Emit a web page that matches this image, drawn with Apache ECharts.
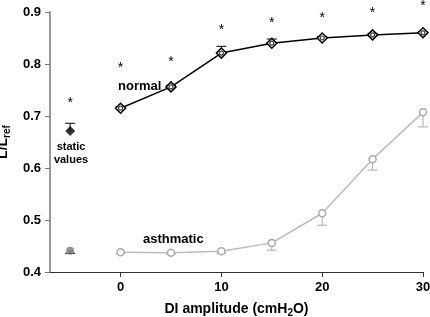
<!DOCTYPE html>
<html>
<head>
<meta charset="utf-8">
<script src="https://cdn.jsdelivr.net/npm/echarts@6/dist/echarts.min.js"></script>
<style>
  html, body { margin: 0; padding: 0; background: #fff; }
  #chart { width: 430px; height: 317px; }
</style>
</head>
<body>
<div id="chart"></div>
<script>
// DI amplitude (cmH2O)
const amplitudes = [0, 5, 10, 15, 20, 25, 30];
const normalMean = [0.715, 0.756, 0.821, 0.840, 0.850, 0.856, 0.860];
const normalErrTop = [0.718, 0.759, 0.834, 0.848, 0.853, 0.859, 0.862];
const asthmaticMean = [0.438, 0.437, 0.440, 0.456, 0.513, 0.617, 0.707];
const asthmaticErrLow = [0.435, 0.434, 0.436, 0.442, 0.490, 0.596, 0.679];
const starLevels = [0.792, 0.804, 0.865, 0.879, 0.888, 0.898, 0.911];

// static values, drawn at x = -5
const staticX = -5;
const staticNormal = 0.671;
const staticNormalErr = 0.686;
const staticAsthmatic = 0.441;
const staticAsthmaticErr = 0.436;
const staticStar = 0.725;

const xTicks = [0, 10, 20, 30];

const FONT = "Liberation Sans";

const pairs = (xs, ys) => xs.map((x, i) => [x, ys[i]]);

const errBar = (color) => (params, api) => {
  const p0 = api.coord([api.value(0), api.value(1)]);
  const p1 = api.coord([api.value(0), api.value(2)]);
  const cap = 5;
  return {
    type: "group",
    children: [
      { type: "line", shape: { x1: p0[0], y1: p0[1], x2: p1[0], y2: p1[1] }, style: { stroke: color, lineWidth: 1 } },
      { type: "line", shape: { x1: p1[0] - cap, y1: p1[1], x2: p1[0] + cap, y2: p1[1] }, style: { stroke: color, lineWidth: 1 } },
    ],
  };
};

const chart = echarts.init(document.getElementById("chart"));

chart.setOption({
  animation: false,
  textStyle: { fontFamily: FONT },
  grid: { left: 50, right: 7, top: 12, bottom: 45, containLabel: false, outerBoundsMode: "none" },
  xAxis: {
    type: "value",
    min: -7,
    max: 30,
    name: "DI amplitude (cmH{s|2}O)",
    nameLocation: "middle",
    nameGap: 28,
    nameTextStyle: {
      fontFamily: FONT, fontSize: 14, fontWeight: "bold", color: "#000",
      rich: { s: { fontFamily: FONT, fontSize: 10, fontWeight: "bold", color: "#000", verticalAlign: "bottom", padding: [8, 0, 0, 0] } },
    },
    splitLine: { show: false },
    axisLine: { onZero: false, lineStyle: { color: "#333", width: 1 } },
    axisTick: { customValues: xTicks, length: 5, lineStyle: { color: "#333" } },
    axisLabel: { customValues: xTicks, fontFamily: FONT, fontSize: 13, fontWeight: "bold", color: "#000", margin: 9 },
  },
  yAxis: {
    type: "value",
    min: 0.4,
    max: 0.9,
    interval: 0.1,
    name: "{a|L/L}{b|ref}",
    nameLocation: "middle",
    nameGap: 31,
    nameTextStyle: {
      rich: {
        a: { fontFamily: FONT, fontSize: 14, fontWeight: "bold", color: "#000" },
        b: { fontFamily: FONT, fontSize: 10, fontWeight: "bold", color: "#000", verticalAlign: "bottom", padding: [8, 0, 0, 0] },
      },
    },
    splitLine: { show: false },
    axisLine: { show: true, onZero: false, lineStyle: { color: "#777", width: 1.5 } },
    axisTick: { show: true, length: 5, lineStyle: { color: "#777" } },
    axisLabel: { fontFamily: FONT, fontSize: 13, fontWeight: "bold", color: "#000", margin: 9, formatter: (v) => v.toFixed(1) },
  },
  series: [
    {
      name: "asthmatic err",
      type: "custom",
      renderItem: errBar("#aaa"),
      data: amplitudes.map((x, i) => [x, asthmaticMean[i], asthmaticErrLow[i]]),
      z: 1,
    },
    {
      name: "normal err",
      type: "custom",
      renderItem: errBar("#000"),
      data: amplitudes.map((x, i) => [x, normalMean[i], normalErrTop[i]]),
      z: 1,
    },
    {
      name: "static err",
      type: "custom",
      renderItem: errBar("#000"),
      data: [[staticX, staticNormal, staticNormalErr], [staticX, staticAsthmatic, staticAsthmaticErr]],
      z: 1,
    },
    {
      name: "asthmatic",
      type: "line",
      data: pairs(amplitudes, asthmaticMean),
      symbol: "circle",
      symbolSize: 7,
      showAllSymbol: true,
      lineStyle: { color: "#bbb", width: 1.5 },
      itemStyle: { color: "#fff", borderColor: "#aaa", borderWidth: 1.5 },
      z: 2,
    },
    {
      name: "normal",
      type: "line",
      data: pairs(amplitudes, normalMean),
      symbol: "diamond",
      symbolSize: 10,
      lineStyle: { color: "#000", width: 1.5 },
      itemStyle: { color: "#fff", borderColor: "#000", borderWidth: 1.5 },
      z: 3,
    },
    {
      name: "normal inner",
      type: "scatter",
      data: pairs(amplitudes, normalMean),
      symbol: "circle",
      symbolSize: 4,
      itemStyle: { color: "#fff", borderColor: "#000", borderWidth: 1.2 },
      z: 4,
    },
    {
      name: "static normal",
      type: "scatter",
      data: [[staticX, staticNormal]],
      symbol: "diamond",
      symbolSize: 10,
      itemStyle: { color: "#000" },
      z: 3,
    },
    {
      name: "static asthmatic",
      type: "scatter",
      data: [[staticX, staticAsthmatic]],
      symbol: "circle",
      symbolSize: 8,
      itemStyle: { color: "#777" },
      z: 3,
    },
    {
      name: "stars",
      type: "custom",
      clip: false,
      renderItem: (params, api) => {
        const p = api.coord([api.value(0), api.value(1)]);
        return {
          type: "text",
          style: { text: "*", x: p[0], y: p[1], align: "center", verticalAlign: "middle", fontFamily: FONT, fontSize: 14, fill: "#000" },
        };
      },
      data: pairs([staticX].concat(amplitudes), [staticStar].concat(starLevels)),
      z: 5,
    },
  ],
  graphic: [
    { type: "text", left: 118, top: 80, style: { text: "normal", fontFamily: FONT, fontSize: 13, fontWeight: "bold", fill: "#000" } },
    { type: "text", left: 143, top: 233, style: { text: "asthmatic", fontFamily: FONT, fontSize: 13, fontWeight: "bold", fill: "#000" } },
    { type: "text", x: 71, y: 140, style: { text: "static\nvalues", fontFamily: FONT, fontSize: 11, fontWeight: "bold", fill: "#000", align: "center", lineHeight: 13 } },
  ],
});
</script>
</body>
</html>
